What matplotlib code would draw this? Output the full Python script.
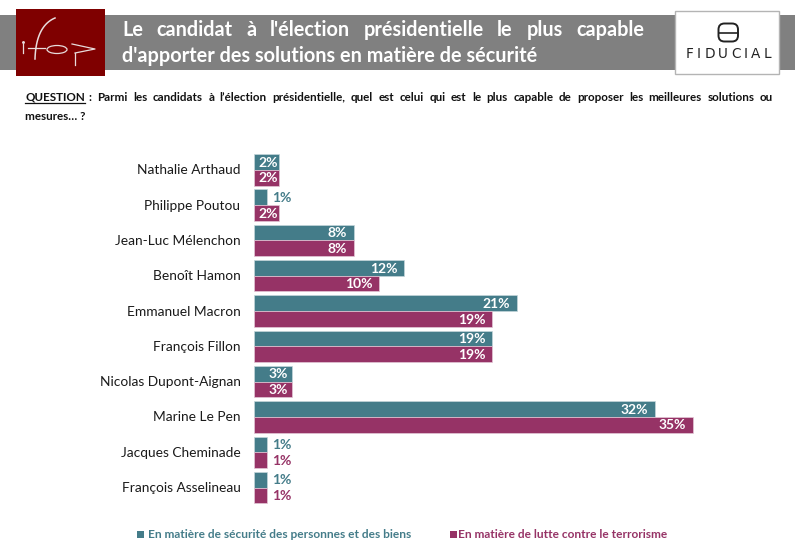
import matplotlib
matplotlib.use('Agg')
import numpy as np
import matplotlib.pyplot as plt
from matplotlib.patches import Rectangle, FancyBboxPatch, Ellipse

plt.rcParams['font.family'] = ['Lato', 'DejaVu Sans']

candidates = ['Nathalie Arthaud', 'Philippe Poutou', 'Jean-Luc Mélenchon', 'Benoît Hamon',
              'Emmanuel Macron', 'François Fillon', 'Nicolas Dupont-Aignan', 'Marine Le Pen',
              'Jacques Cheminade', 'François Asselineau']
securite = [2, 1, 8, 12, 21, 19, 3, 32, 1, 1]
terrorisme = [2, 2, 8, 10, 19, 19, 3, 35, 1, 1]
serie_a = 'En matière de sécurité des personnes et des biens'
serie_b = 'En matière de lutte contre le terrorisme'
title_lines = ["Le candidat à l'élection présidentielle le plus capable",
               "d'apporter des solutions en matière de sécurité"]
question_rest = " : Parmi les candidats à l’élection présidentielle, quel est celui qui est le plus capable de proposer les meilleures solutions ou"

TEAL = '#447c89'
PLUM = '#963366'
W, H = 795, 548

fig = plt.figure(figsize=(W / 100, H / 100), dpi=100, facecolor='white')

# page furniture, in pixel coords
bg = fig.add_axes([0, 0, 1, 1])
bg.set_xlim(0, W)
bg.set_ylim(H, 0)
bg.axis('off')


def justified(words, x0, x1, y, **kw):
    # spread words so the line fills x0..x1 like the slide does
    r = fig.canvas.get_renderer()
    items = [bg.text(0, y, w, va='center', ha='left', **kw) for w in words]
    widths = [t.get_window_extent(r).width for t in items]
    gap = (x1 - x0 - sum(widths)) / (len(words) - 1)
    x = x0
    for t, w in zip(items, widths):
        t.set_x(x)
        x += w + gap


bg.add_patch(Rectangle((0, 15), W, 55, fc='#808080', ec='none'))
bg.add_patch(Rectangle((16, 9), 89, 67, fc='#7f0000', ec='none'))

# ifop logo
lc = '#e8dcdc'
bg.plot([23, 23], [44, 53], color=lc, lw=0.9)
bg.plot([23], [41.5], marker='o', ms=1.1, color=lc)
th = np.linspace(0, 1, 30)
bg.plot((1 - th) ** 2 * 35 + 2 * th * (1 - th) * 36 + th ** 2 * 55,
        (1 - th) ** 2 * 59 + 2 * th * (1 - th) * 26 + th ** 2 * 18, color=lc, lw=1.1)
bg.plot([28, 45], [48, 48], color=lc, lw=0.9)
bg.add_patch(Ellipse((57, 49.5), 20, 8, fc='none', ec=lc, lw=0.9))
bg.plot([75, 75], [65, 53], color=lc, lw=0.9)
bg.plot([72, 95, 75], [44, 49, 53], color=lc, lw=0.9)

# fiducial logo
bg.add_patch(Rectangle((674.5, 10.5), 104, 63, fc='white', ec='#b4b4b4', lw=1, zorder=3))
bg.add_patch(FancyBboxPatch((718.5, 23.5), 19.5, 18, boxstyle='round,pad=0,rounding_size=6',
                            fc='none', ec='#222222', lw=1.4, zorder=4))
bg.plot([718.5, 738], [32.5, 32.5], color='#222222', lw=1.2, zorder=4)
justified(list('FIDUCIAL'), 686, 771, 54, fontsize=9.8, color='#222222', zorder=4, family=['DejaVu Sans'])

justified(title_lines[0].split(), 122, 644, 30, fontsize=14.3, fontweight='bold', color='white')
bg.text(122, 56, title_lines[1], fontsize=14.3, fontweight='bold', color='white', va='center')

# question, first word underlined
q = bg.text(25, 97.5, 'QUESTION', fontsize=8.4, fontweight='bold', color='#111111', va='center')
q_w = q.get_window_extent(fig.canvas.get_renderer()).width
bg.plot([25, 25 + q_w], [103, 103], color='#111111', lw=0.9)
justified(question_rest.split(), 25 + q_w + 4, 773, 97.5, fontsize=8.4, fontweight='bold', color='#111111')
bg.text(25, 116, 'mesures… ?', fontsize=8.4, fontweight='bold', color='#111111', va='center')

# bars
left, right = 254, 760
top, bottom = 152.7, 505.7
ax = fig.add_axes([left / W, 1 - bottom / H, (right - left) / W, (bottom - top) / H])
ax.patch.set_alpha(0)
y = np.arange(len(candidates))
h = 0.445
ax.barh(y - h / 2, securite, height=h, color=TEAL, edgecolor='#c4d6da', linewidth=0.5)
ax.barh(y + h / 2, terrorisme, height=h, color=PLUM, edgecolor='#e3c8d6', linewidth=0.5)
ax.set_xlim(0, (right - left) / 12.53)
ax.set_ylim(len(candidates) - 0.5 + 0.015, -0.5 + 0.015)
ax.axis('off')

for i, name in enumerate(candidates):
    bg.text(240.5, top + (i + 0.5) * (bottom - top) / len(candidates), name,
            fontsize=9.9, color='#1a1a1a', ha='right', va='center')

inside_pad = {2: -0.5, 3: -3}
for i, (a, b) in enumerate(zip(securite, terrorisme)):
    for v, off, col in ((a, -h / 2, TEAL), (b, h / 2, PLUM)):
        if v >= 2:
            ax.annotate(f'{v}%', (v, i + off), xytext=(inside_pad.get(v, -5), -0.5), textcoords='offset points',
                        ha='right', va='center', color='white', fontsize=10, fontweight='bold')
        else:
            ax.annotate(f'{v}%', (v, i + off), xytext=(4, -0.5), textcoords='offset points',
                        ha='left', va='center', color=col, fontsize=10, fontweight='bold')

# legend
bg.add_patch(Rectangle((137, 531), 6.5, 6.5, fc=TEAL, ec='none'))
bg.text(148, 535, serie_a, fontsize=8.6, fontweight='bold', color=TEAL, va='center')
bg.add_patch(Rectangle((450, 531), 6.5, 6.5, fc=PLUM, ec='none'))
bg.text(458.5, 535, serie_b, fontsize=8.6, fontweight='bold', color=PLUM, va='center')

fig.savefig('out.png', dpi=100, facecolor='white')
